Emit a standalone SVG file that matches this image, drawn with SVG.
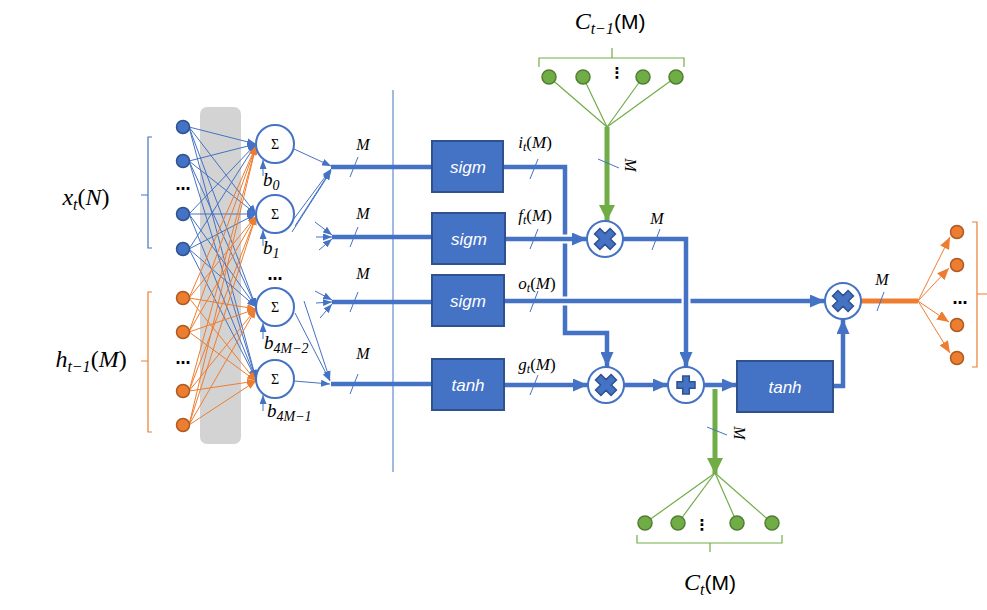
<svg xmlns="http://www.w3.org/2000/svg" width="987" height="610" viewBox="0 0 987 610">
<style>
.tb{stroke:#4472C4;stroke-width:1;fill:none}
.to{stroke:#ED7D31;stroke-width:1;fill:none}
.tg{stroke:#70AD47;stroke-width:1.2;fill:none}
.thick{stroke:#4472C4;stroke-width:4.5;fill:none}
.under{stroke:#FFFFFF;stroke-width:9;fill:none}
.nb{fill:#4472C4;stroke:#2F528F;stroke-width:1.5}
.no{fill:#ED7D31;stroke:#AE5A21;stroke-width:1.5}
.ng{fill:#70AD47;stroke:#507E32;stroke-width:1.5}
.sum{fill:#FFFFFF;stroke:#4472C4;stroke-width:2}
.box{fill:#4472C4;stroke:#2F528F;stroke-width:2}
.op{fill:#FFFFFF;stroke:#4472C4;stroke-width:2}
.sym{fill:#4472C4;stroke:#2F528F;stroke-width:1.5}
.bt{font-family:"Liberation Sans",Arial,sans-serif;font-style:italic;font-size:17px;fill:#FFFFFF;text-anchor:middle}
.mi{font-family:"Liberation Serif","DejaVu Serif",serif;font-style:italic;fill:#000000}
.up{font-family:"Liberation Serif","DejaVu Serif",serif;font-style:normal}
.sn{font-family:"Liberation Sans",Arial,sans-serif;font-style:normal}
.dots{font-family:"DejaVu Sans",sans-serif;font-weight:bold;font-size:15px;fill:#000000;text-anchor:middle}
.br{fill:none;stroke-width:1.2}
</style>
<defs>
<marker id="aB" markerUnits="userSpaceOnUse" markerWidth="9" markerHeight="7" refX="9" refY="3.5" orient="auto"><path d="M0,0 L9,3.5 L0,7 z" fill="#4472C4"/></marker>
<marker id="aO" markerUnits="userSpaceOnUse" markerWidth="9" markerHeight="7" refX="9" refY="3.5" orient="auto"><path d="M0,0 L9,3.5 L0,7 z" fill="#ED7D31"/></marker>
<marker id="aO2" markerUnits="userSpaceOnUse" markerWidth="12" markerHeight="10" refX="12" refY="5" orient="auto"><path d="M0,0 L12,5 L0,10 z" fill="#ED7D31"/></marker>
<marker id="aBig" markerUnits="userSpaceOnUse" markerWidth="15" markerHeight="13" refX="15" refY="6.5" orient="auto"><path d="M0,0 L15,6.5 L0,13 z" fill="#4472C4"/></marker>
<marker id="aG" markerUnits="userSpaceOnUse" markerWidth="16" markerHeight="16" refX="16" refY="8" orient="auto"><path d="M0,0 L16,8 L0,16 z" fill="#70AD47"/></marker>
<path id="xs" class="sym" d="M-3.8,-11 h7.6 v7.2 h7.2 v7.6 h-7.2 v7.2 h-7.6 v-7.2 h-7.2 v-7.6 h7.2 z" transform="rotate(45)"/>
<path id="ps" class="sym" d="M-3.3,-9 h6.6 v5.7 h5.7 v6.6 h-5.7 v5.7 h-6.6 v-5.7 h-5.7 v-6.6 h5.7 z"/>
</defs>
<rect width="987" height="610" fill="#FFFFFF"/>

<!-- brackets and side labels -->
<g id="bracket-x">
<path class="br" stroke="#4472C4" d="M152,137 H148 V248 H152 M148,195 H141"/>
<text class="mi" x="86" y="205" font-size="24" text-anchor="middle">x<tspan font-size="16" dy="5">t</tspan><tspan class="up" dy="-5">(</tspan>N<tspan class="up">)</tspan></text>
</g>
<g id="bracket-h">
<path class="br" stroke="#ED7D31" d="M152,292 H148 V432 H152 M148,361 H141"/>
<text class="mi" x="91" y="367" font-size="24" text-anchor="middle">h<tspan font-size="16" dy="5">t−1</tspan><tspan class="up" dy="-5">(</tspan>M<tspan class="up">)</tspan></text>
</g>

<rect id="gray-band" x="200" y="107" width="41" height="337" rx="7" fill="#D3D3D3"/>
<line x1="393" y1="90" x2="393" y2="472" stroke="#4472C4" stroke-width="1"/>

<g id="connectors">
<!-- inputs to sums -->
<g class="tb" marker-end="url(#aB)">
<path d="M189,127 L256,144"/><path d="M189,127 L256,214"/><path d="M189,127 L256,307"/><path d="M189,127 L256,379"/>
<path d="M189,161 L256,144"/><path d="M189,161 L256,214"/><path d="M189,161 L256,307"/><path d="M189,161 L256,379"/>
<path d="M189,214 L256,144"/><path d="M189,214 L256,214"/><path d="M189,214 L256,307"/><path d="M189,214 L256,379"/>
<path d="M189,249 L256,144"/><path d="M189,249 L256,214"/><path d="M189,249 L256,307"/><path d="M189,249 L256,379"/>
</g>
<g class="to" marker-end="url(#aO)">
<path d="M189,298 L256,146"/><path d="M189,298 L256,216"/><path d="M189,298 L256,309"/><path d="M189,298 L256,381"/>
<path d="M189,332 L256,146"/><path d="M189,332 L256,216"/><path d="M189,332 L256,309"/><path d="M189,332 L256,381"/>
<path d="M189,391 L256,146"/><path d="M189,391 L256,216"/><path d="M189,391 L256,309"/><path d="M189,391 L256,381"/>
<path d="M189,425 L256,146"/><path d="M189,425 L256,216"/><path d="M189,425 L256,309"/><path d="M189,425 L256,381"/>
</g>
<!-- bias arrows -->
<g class="tb" marker-end="url(#aB)">
<path d="M263,176 V160"/><path d="M263,246 V230"/><path d="M263,339 V323"/><path d="M263,411 V395"/>
</g>
<!-- sums to gate merge points -->
<g class="tb" marker-end="url(#aB)">
<path d="M294,149 L331,166"/>
<path d="M293,220 L331,169"/><path d="M295,226 L331,170"/><path d="M292,232 L331,171"/>
<path d="M315,222 L332,235"/><path d="M316,237 L332,237"/><path d="M319,250 L332,239"/>
<path d="M315,291 L332,300"/><path d="M316,303 L332,302"/><path d="M320,318 L332,304"/>
<path d="M304,301 L330,380"/><path d="M295,313 L330,381"/><path d="M294,381 L330,384"/>
</g>
<path class="thick" d="M331,167 H432"/>
<path class="thick" d="M332,237 H432"/>
<path class="thick" d="M332,302 H432"/>
<path class="thick" d="M331,384 H432"/>
<g stroke="#4472C4" stroke-width="1">
<line x1="350" y1="177" x2="358" y2="157"/>
<line x1="350" y1="247" x2="358" y2="227"/>
<line x1="350" y1="312" x2="358" y2="292"/>
<line x1="350" y1="394" x2="358" y2="374"/>
</g>

<!-- gate outputs -->
<path class="thick" d="M503,167 H565 V333 H607 V367" marker-end="url(#aBig)"/>
<path class="under" d="M505,239 H580"/>
<path class="thick" d="M505,239 H587" marker-end="url(#aBig)"/>
<path class="under" d="M504,301 H818"/>
<path class="thick" d="M504,301 H825" marker-end="url(#aBig)"/>
<path class="thick" d="M504,385 H588" marker-end="url(#aBig)"/>
<path class="under" d="M686,280 V320"/>
<path class="thick" d="M623,239 H686 V367" marker-end="url(#aBig)"/>
<path class="thick" d="M624,385 H668" marker-end="url(#aBig)"/>
<path class="thick" d="M704,385 H737" marker-end="url(#aBig)"/>
<path class="thick" d="M833,386 H843 V319" marker-end="url(#aBig)"/>
<path d="M861,301 H918" stroke="#ED7D31" stroke-width="5" fill="none"/>
<g class="to" marker-end="url(#aO2)">
<path d="M918,301 L950,237"/><path d="M918,301 L949,268"/><path d="M918,301 L949,322"/><path d="M918,301 L950,353"/>
</g>
<!-- green cell state -->
<g class="tg">
<path d="M549,77 L607,127"/><path d="M583,77 L607,127"/><path d="M643,77 L607,127"/><path d="M676,77 L607,127"/>
<path d="M715,473 L645,523"/><path d="M715,473 L678,523"/><path d="M715,473 L737,523"/><path d="M715,473 L772,523"/>
</g>
<path d="M607,127 V221" stroke="#70AD47" stroke-width="5" fill="none" marker-end="url(#aG)"/>
<path d="M715,389 V474" stroke="#70AD47" stroke-width="5" fill="none" marker-end="url(#aG)"/>

<!-- width ticks -->
<g stroke="#4472C4" stroke-width="1">
<line x1="530" y1="179" x2="538" y2="159"/>
<line x1="530" y1="249" x2="538" y2="229"/>
<line x1="530" y1="312" x2="538" y2="291"/>
<line x1="530" y1="395" x2="538" y2="375"/>
<line x1="652" y1="250" x2="660" y2="229"/>
<line x1="598" y1="159" x2="619" y2="168"/>
<line x1="707" y1="427" x2="727" y2="435"/>
<line x1="877" y1="311" x2="884" y2="292"/>
</g>
</g>

<!-- labels -->
<g class="mi" font-size="16" text-anchor="middle">
<text x="363" y="150">M</text>
<text x="363" y="219">M</text>
<text x="363" y="279">M</text>
<text x="363" y="359">M</text>
<text x="657" y="224">M</text>
<text x="882" y="285">M</text>
<text x="0" y="0" transform="translate(625,165) rotate(90)">M</text>
<text x="0" y="0" transform="translate(734,433) rotate(90)">M</text>
</g>
<g class="mi" font-size="17" text-anchor="middle">
<text x="535" y="148">i<tspan font-size="12" dy="3">t</tspan><tspan class="up" dy="-3">(</tspan>M<tspan class="up">)</tspan></text>
<text x="535" y="221">f<tspan font-size="12" dy="3">t</tspan><tspan class="up" dy="-3">(</tspan>M<tspan class="up">)</tspan></text>
<text x="537" y="289">o<tspan font-size="12" dy="3">t</tspan><tspan class="up" dy="-3">(</tspan>M<tspan class="up">)</tspan></text>
<text x="537" y="370">g<tspan font-size="12" dy="3">t</tspan><tspan class="up" dy="-3">(</tspan>M<tspan class="up">)</tspan></text>
</g>
<g class="mi" font-size="19">
<text x="263" y="186">b<tspan font-size="14" dy="4">0</tspan></text>
<text x="263" y="254">b<tspan font-size="14" dy="4">1</tspan></text>
<text x="264" y="349">b<tspan font-size="14" dy="4">4M−2</tspan></text>
<text x="267" y="417">b<tspan font-size="14" dy="4">4M−1</tspan></text>
</g>
<text class="mi" x="610" y="29" font-size="24" text-anchor="middle">C<tspan font-size="16" dy="5">t−1</tspan><tspan class="sn" dy="-5" font-size="21">(M)</tspan></text>
<text class="mi" x="710" y="590" font-size="24" text-anchor="middle">C<tspan font-size="16" dy="5">t</tspan><tspan class="sn" dy="-5" font-size="21">(M)</tspan></text>

<g class="dots">
<text x="183" y="190">…</text>
<text x="183" y="364">…</text>
<text x="275" y="280">…</text>
<text x="960" y="304">…</text>
<text x="617" y="78">⋮</text>
<text x="702" y="530">⋮</text>
</g>

<!-- input nodes -->
<g id="in-x">
<circle class="nb" cx="183" cy="127" r="6.5"/>
<circle class="nb" cx="183" cy="161" r="6.5"/>
<circle class="nb" cx="183" cy="214" r="6.5"/>
<circle class="nb" cx="183" cy="249" r="6.5"/>
</g>
<g id="in-h">
<circle class="no" cx="183" cy="298" r="6.5"/>
<circle class="no" cx="183" cy="332" r="6.5"/>
<circle class="no" cx="183" cy="391" r="6.5"/>
<circle class="no" cx="183" cy="425" r="6.5"/>
</g>
<!-- sum nodes -->
<g id="sum0"><circle class="sum" cx="275" cy="144" r="19"/><text class="up" x="275" y="149" font-size="14" text-anchor="middle">Σ</text></g>
<g id="sum1"><circle class="sum" cx="275" cy="214" r="19"/><text class="up" x="275" y="219" font-size="14" text-anchor="middle">Σ</text></g>
<g id="sum2"><circle class="sum" cx="275" cy="307" r="19"/><text class="up" x="275" y="312" font-size="14" text-anchor="middle">Σ</text></g>
<g id="sum3"><circle class="sum" cx="275" cy="379" r="19"/><text class="up" x="275" y="384" font-size="14" text-anchor="middle">Σ</text></g>

<!-- gate boxes -->
<g id="gate-i"><rect class="box" x="432" y="141" width="71" height="51"/><text class="bt" x="468" y="173">sigm</text></g>
<g id="gate-f"><rect class="box" x="432" y="213" width="73" height="51"/><text class="bt" x="469" y="245">sigm</text></g>
<g id="gate-o"><rect class="box" x="432" y="275" width="72" height="51"/><text class="bt" x="468" y="307">sigm</text></g>
<g id="gate-g"><rect class="box" x="432" y="359" width="72" height="51"/><text class="bt" x="468" y="391">tanh</text></g>
<g id="tanh-c"><rect class="box" x="737" y="361" width="96" height="51"/><text class="bt" x="785" y="393">tanh</text></g>

<!-- operators -->
<g id="mul-f"><circle class="op" cx="605" cy="239" r="18"/><use href="#xs" x="605" y="239"/></g>
<g id="mul-i"><circle class="op" cx="606" cy="385" r="18"/><use href="#xs" x="606" y="385"/></g>
<g id="add-c"><circle class="op" cx="686" cy="385" r="18"/><use href="#ps" x="686" y="385"/></g>
<g id="mul-o"><circle class="op" cx="843" cy="301" r="18"/><use href="#xs" x="843" y="301"/></g>

<!-- cell state nodes -->
<g id="c-prev">
<path class="br" stroke="#70AD47" d="M539,67 V58 H684 V67 M612,58 V48"/>
<circle class="ng" cx="549" cy="77" r="7"/>
<circle class="ng" cx="583" cy="77" r="7"/>
<circle class="ng" cx="643" cy="77" r="7"/>
<circle class="ng" cx="676" cy="77" r="7"/>
</g>
<g id="c-next">
<path class="br" stroke="#70AD47" d="M637,535 V543 H782 V535 M710,543 V552"/>
<circle class="ng" cx="645" cy="523" r="7"/>
<circle class="ng" cx="678" cy="523" r="7"/>
<circle class="ng" cx="737" cy="523" r="7"/>
<circle class="ng" cx="772" cy="523" r="7"/>
</g>
<!-- output nodes -->
<g id="out-h">
<path class="br" stroke="#ED7D31" d="M972,222 H977 V367 H972 M977,294 H987"/>
<circle class="no" cx="957" cy="232" r="6.5"/>
<circle class="no" cx="957" cy="265" r="6.5"/>
<circle class="no" cx="957" cy="325" r="6.5"/>
<circle class="no" cx="957" cy="358" r="6.5"/>
</g>
</svg>
